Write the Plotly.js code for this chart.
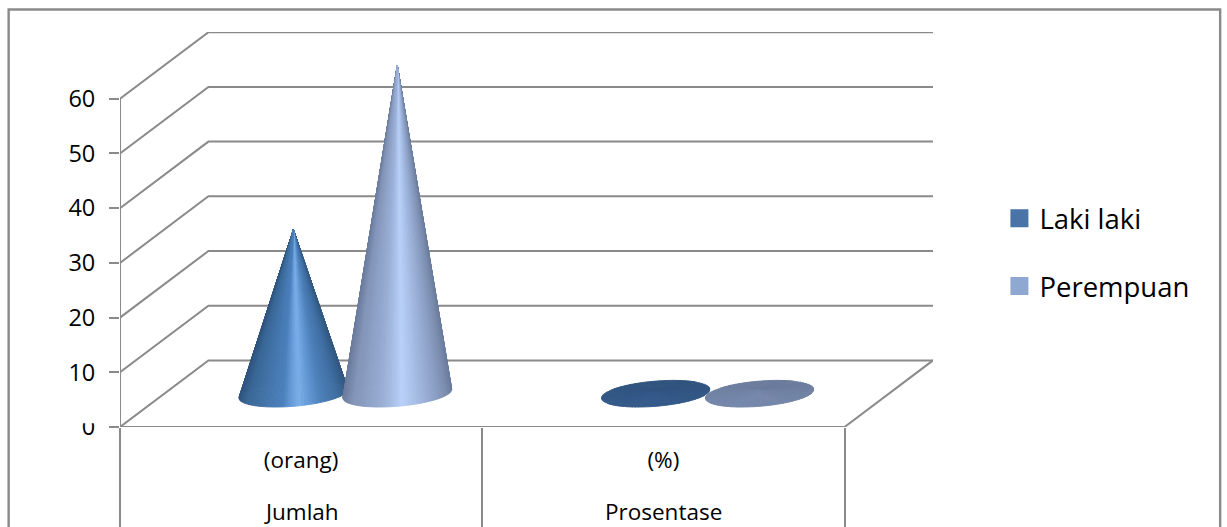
<!DOCTYPE html>
<html>
<head>
<meta charset="utf-8">
<script src="https://cdn.plot.ly/plotly-3.0.1.min.js"></script>
<style>html,body{margin:0;padding:0;background:#fff;overflow:hidden}</style>
</head>
<body>
<div id="chart" style="width:1227px;height:527px"></div>
<script>
// Chart values
const subCategories = ['(orang)', '(%)'];
const categories = ['Jumlah', 'Prosentase'];
const seriesNames = ['Laki laki', 'Perempuan'];
const lakiLaki = [30, 0.33];
const perempuan = [60, 0.67];
const valueTicks = [0, 10, 20, 30, 40, 50, 60];

// Oblique projection, in axis units (one x unit is one category, y is the value)
const DEPTH_X = 0.2441, DEPTH_Y = 12.17;
const BASE_RADIUS = 0.142, BASE_DEPTH = 0.4, SERIES_SHIFT = 0.1434;
const WALL_END = 2 + DEPTH_X;
const SLICES = 120;

const LINE = '#8a8a8a';
const legendColors = ['#4a74a8', '#8fa8d2'];
const discColors = [['#30537d', '#33598a'], ['#6b7c9c', '#7587aa']];
const ramps = [
  [[-1,'#2f547e'],[-0.85,'#3a6796'],[-0.5,'#4475ab'],[-0.2,'#4c81bd'],[-0.05,'#669bd8'],[0.1,'#7aafea'],[0.28,'#6398d5'],[0.5,'#4d80b9'],[0.8,'#3f6ea1'],[1,'#325881']],
  [[-1,'#6b7c9e'],[-0.8,'#8395b8'],[-0.35,'#96a9d0'],[-0.08,'#a9c0e8'],[0.08,'#bad2f9'],[0.3,'#a9c0e8'],[0.65,'#8fa3c9'],[0.88,'#7c8eaf'],[1,'#6b7c9e']]
];

const hex = c => [1, 3, 5].map(i => parseInt(c.substr(i, 2), 16));
function mix(a, b, k) {
  const A = hex(a), B = hex(b);
  return 'rgb(' + A.map((v, i) => Math.round(v + (B[i] - v) * k)).join(',') + ')';
}
function rampColor(ramp, u) {
  for (let i = 1; i < ramp.length; i++) {
    if (u <= ramp[i][0]) {
      return mix(ramp[i - 1][1], ramp[i][1], (u - ramp[i - 1][0]) / (ramp[i][0] - ramp[i - 1][0]));
    }
  }
  return ramp[ramp.length - 1][1];
}

const traces = [];

// Back wall and side wall rules: one polyline per value tick
valueTicks.forEach(v => {
  traces.push({
    x: [0, DEPTH_X, WALL_END], y: [v, v + DEPTH_Y, v + DEPTH_Y],
    mode: 'lines', line: {color: LINE, width: 2}, showlegend: false, hoverinfo: 'skip', cliponaxis: false
  });
});
// Value axis line and the front and right edges of the floor
traces.push({
  x: [0, 0], y: [0, valueTicks[valueTicks.length - 1]],
  mode: 'lines', line: {color: LINE, width: 2}, showlegend: false, hoverinfo: 'skip', cliponaxis: false
});
traces.push({
  x: [0, 2, WALL_END], y: [0, 0, DEPTH_Y],
  mode: 'lines', line: {color: LINE, width: 2}, showlegend: false, hoverinfo: 'skip', cliponaxis: false
});

// One cone per value, built as a fan of slices from the apex to the base rim
function addCone(catIndex, seriesIndex, value) {
  const cx = catIndex + 0.5 + DEPTH_X / 2 + (seriesIndex === 0 ? -SERIES_SHIFT : SERIES_SHIFT);
  const cy = DEPTH_Y / 2;
  const rim = t => [
    cx + BASE_RADIUS * Math.cos(t) + BASE_DEPTH * DEPTH_X / 2 * Math.sin(t),
    cy + BASE_DEPTH * DEPTH_Y / 2 * Math.sin(t)
  ];
  const halfWidth = Math.hypot(BASE_RADIUS, BASE_DEPTH * DEPTH_X / 2);
  const slices = [];
  for (let i = 0; i < SLICES; i++) {
    const t0 = 2 * Math.PI * i / SLICES, t1 = 2 * Math.PI * (i + 1) / SLICES;
    const tm = (t0 + t1) / 2;
    slices.push({t0, t1, tm, depth: Math.sin(tm)});
  }
  slices.sort((a, b) => b.depth - a.depth);
  slices.forEach(s => {
    const a = rim(s.t0), b = rim(s.t1), m = rim(s.tm);
    const u = Math.max(-1, Math.min(1, (m[0] - cx) / halfWidth));
    const flat = value < 1;
    const color = flat
      ? mix(discColors[seriesIndex][0], discColors[seriesIndex][1], (1 - s.depth) / 2)
      : rampColor(ramps[seriesIndex], u);
    traces.push({
      x: [cx, a[0], b[0], cx], y: [cy + value, a[1], b[1], cy + value],
      mode: 'lines', fill: 'toself', fillcolor: color,
      line: {color: color, width: 0.9}, showlegend: false, hoverinfo: 'skip', cliponaxis: false
    });
  });
}
[lakiLaki, perempuan].forEach((vals, s) => vals.forEach((v, c) => addCone(c, s, v)));

// Legend keys
seriesNames.forEach((name, i) => {
  traces.push({
    x: [null], y: [null], name: name, legendgroup: name, mode: 'markers',
    marker: {symbol: 'square', size: 16, color: legendColors[i], line: {color: legendColors[i], width: 2}}
  });
});

// Plot area in page pixels
const PW = 1227, PH = 527, L = 119.5, R = 933.5, T = 31.5, B = 426.7;
const paperX = px => (px - L) / (R - L);
const paperY = py => (B - py) / (B - T);

const layout = {
  width: PW, height: PH,
  margin: {l: L, r: PW - R, t: T, b: PH - B, pad: 0},
  paper_bgcolor: '#ffffff', plot_bgcolor: 'rgba(0,0,0,0)',
  font: {family: '"Open Sans", sans-serif', color: '#000000'},
  showlegend: true,
  legend: {
    x: paperX(1000), y: paperY(193.5), xanchor: 'left', yanchor: 'top',
    font: {size: 27.5, color: '#000000'}, tracegroupgap: 29, traceorder: 'grouped',
    bgcolor: 'rgba(0,0,0,0)', borderwidth: 0, itemclick: false, itemdoubleclick: false
  },
  xaxis: {
    range: [0, WALL_END], fixedrange: true, showgrid: false, zeroline: false, showline: false,
    tickmode: 'array', tickvals: [0.5, 1.5], ticktext: subCategories, ticks: '', ticklen: 0,
    tickfont: {size: 22.5}, ticklabelstandoff: 17,
    minor: {tickmode: 'array', tickvals: [0, 1, 2], ticks: 'outside', ticklen: 110, tickwidth: 2, tickcolor: LINE, showgrid: false}
  },
  yaxis: {
    range: [0, (B - T) / ((B - 98.3) / 60)], fixedrange: true, showgrid: false, zeroline: false, showline: false,
    tickmode: 'array', tickvals: valueTicks, ticks: 'outside', ticklen: 10, tickwidth: 2, tickcolor: LINE,
    tickfont: {size: 23.5}, ticklabelstandoff: 9
  },
  annotations: categories.map((text, i) => ({
    text: text, xref: 'x', yref: 'paper', x: i + 0.5, y: paperY(511),
    showarrow: false, xanchor: 'center', yanchor: 'middle', font: {size: 22.5, color: '#000000'}
  })),
  shapes: [
    // Chart area border; its lower edge runs past the page
    {type: 'rect', xref: 'paper', yref: 'paper', x0: paperX(8), x1: paperX(1221), y0: paperY(560), y1: paperY(9),
     line: {color: LINE, width: 2.4}, fillcolor: 'rgba(0,0,0,0)', layer: 'below'},
    // Strip that trims the top of the lowest tick label
    {type: 'rect', xref: 'paper', yref: 'paper', x0: paperX(60), x1: paperX(105), y0: paperY(423), y1: paperY(404),
     line: {width: 0}, fillcolor: '#ffffff', layer: 'above'}
  ]
};

Plotly.newPlot('chart', traces, layout, {displayModeBar: false, staticPlot: true});
</script>
</body>
</html>
